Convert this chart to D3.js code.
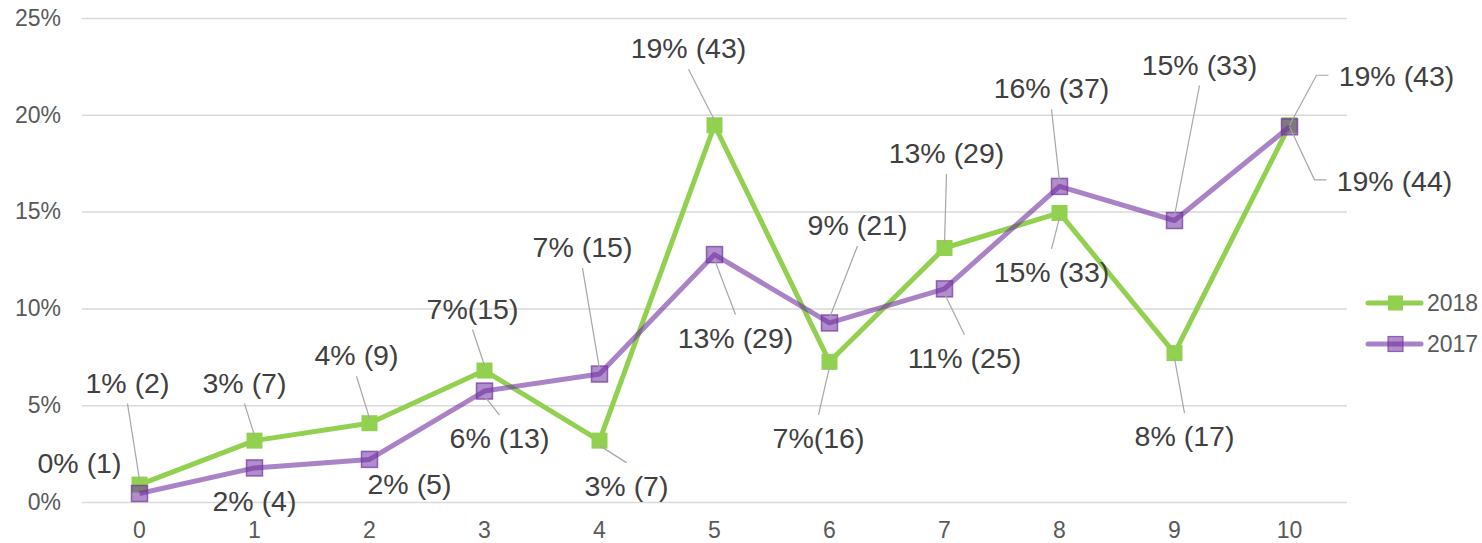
<!DOCTYPE html>
<html>
<head>
<meta charset="utf-8">
<script src="https://cdn.jsdelivr.net/npm/d3@7"></script>
<style>
  html, body { margin: 0; padding: 0; background: #fff; }
  svg { display: block; font-family: "Liberation Sans", Arial, sans-serif; }
</style>
</head>
<body>
<svg id="chart" width="1482" height="543"></svg>
<script>
// Categories on the x axis
const categories = ["0", "1", "2", "3", "4", "5", "6", "7", "8", "9", "10"];

// Share of responses (%) per category
const values2018 = [0.90, 3.17, 4.07, 6.79, 3.17, 19.46, 7.24, 13.12, 14.93, 7.69, 19.46];
const values2017 = [0.44, 1.76, 2.20, 5.73, 6.61, 12.78, 9.25, 11.01, 16.30, 14.54, 19.38];

// Data label text (percentage and count)
const labels2018 = ["1% (2)", "3% (7)", "4% (9)", "7%(15)", "3% (7)", "19% (43)", "7%(16)", "13% (29)", "15% (33)", "8% (17)", "19% (43)"];
const labels2017 = ["0% (1)", "2% (4)", "2% (5)", "6% (13)", "7% (15)", "13% (29)", "9% (21)", "11% (25)", "16% (37)", "15% (33)", "19% (44)"];

// Y axis ticks (%)
const yTicks = [0, 5, 10, 15, 20, 25];

const seriesNames = ["2018", "2017"];

// Label placement relative to each point: [dx, dy] of label centre, leader flag / elbow
const place2018 = [
  {dx: -12, dy: -102, lead: true}, {dx: -10, dy: -58, lead: true}, {dx: -13, dy: -68, lead: true},
  {dx: -12, dy: -62, lead: true}, {dx: 27, dy: 45, lead: true}, {dx: -26, dy: -77, lead: true},
  {dx: -11, dy: 76, lead: true}, {dx: 2, dy: -95, lead: true}, {dx: -8, dy: 59, lead: true},
  {dx: 10, dy: 83, lead: true}, {dx: 107, dy: -49, elbow: true}
];
const place2017 = [
  {dx: -60, dy: -30}, {dx: 0, dy: 33}, {dx: 40, dy: 25},
  {dx: 15, dy: 47, lead: true}, {dx: -17, dy: -127, lead: true}, {dx: 21, dy: 83, lead: true},
  {dx: 28, dy: -98, lead: true}, {dx: 20, dy: 69, lead: true}, {dx: -8, dy: -98, lead: true},
  {dx: 25, dy: -156, lead: true}, {dx: 105, dy: 54, elbow: true}
];

const svg = d3.select("#chart");
const margin = {left: 82, right: 135, top: 18, bottom: 41};
const W = 1482, H = 543;

const x = d3.scaleBand().domain(categories).range([margin.left, W - margin.right]).paddingInner(0).paddingOuter(0);
const y = d3.scaleLinear().domain([0, 25]).range([H - margin.bottom, margin.top]);
const cx = c => x(c) + x.bandwidth() / 2;

const green = "#92D050";
const purpleLine = "rgba(112,48,160,0.6)";
const purpleFill = "rgba(112,48,160,0.55)";
const purpleStroke = "rgba(112,48,160,0.7)";

// Gridlines
const yAxis = d3.axisLeft(y).tickValues(yTicks).tickSize(-(W - margin.right - margin.left)).tickFormat(d => d + "%").tickPadding(21);
const gy = svg.append("g").attr("transform", `translate(${margin.left},0)`).call(yAxis);
gy.select(".domain").remove();
gy.selectAll(".tick line").attr("stroke", "#d9d9d9").attr("stroke-width", 1.5);
gy.selectAll(".tick text").attr("fill", "#595959").attr("font-size", 23).attr("font-family", "Liberation Sans, Arial, sans-serif");

// X axis labels
const xAxis = d3.axisBottom(x).tickSize(0).tickPadding(20);
const gx = svg.append("g").attr("transform", `translate(0,${H - margin.bottom})`).call(xAxis);
gx.select(".domain").remove();
gx.selectAll(".tick text").attr("fill", "#595959").attr("font-size", 23).attr("font-family", "Liberation Sans, Arial, sans-serif");

const line = d3.line().x((d, i) => cx(categories[i])).y(d => y(d));

// 2018 series
svg.append("path").datum(values2018).attr("d", line)
  .attr("fill", "none").attr("stroke", green).attr("stroke-width", 5).attr("stroke-linejoin", "round");
svg.append("g").selectAll("rect").data(values2018).join("rect")
  .attr("x", (d, i) => cx(categories[i]) - 8).attr("y", d => y(d) - 8)
  .attr("width", 16).attr("height", 16).attr("fill", green);

// 2017 series
svg.append("path").datum(values2017).attr("d", line)
  .attr("fill", "none").attr("stroke", purpleLine).attr("stroke-width", 5).attr("stroke-linejoin", "round");
svg.append("g").selectAll("rect").data(values2017).join("rect")
  .attr("x", (d, i) => cx(categories[i]) - 8).attr("y", d => y(d) - 8)
  .attr("width", 16).attr("height", 16).attr("fill", purpleFill)
  .attr("stroke", purpleStroke).attr("stroke-width", 1.5);

// Data labels with leader lines
function drawLabels(values, labels, place) {
  const g = svg.append("g");
  values.forEach((v, i) => {
    const px = cx(categories[i]), py = y(v);
    const p = place[i];
    const lx = px + p.dx, ly = py + p.dy;
    if (p.elbow) {
      const ex = lx - 68, ey = ly - 1;
      g.append("polyline")
        .attr("points", `${px},${py} ${ex - 12},${ey} ${ex},${ey}`)
        .attr("fill", "none").attr("stroke", "#a6a6a6").attr("stroke-width", 1.2);
    } else if (p.lead) {
      const up = p.dy < 0;
      const sx = lx, sy = up ? ly + 21 : ly - 23;
      const tx = px, ty = up ? py - 5 : py + 5;
      g.append("line").attr("x1", sx).attr("y1", sy).attr("x2", tx).attr("y2", ty)
        .attr("stroke", "#a6a6a6").attr("stroke-width", 1.2);
    }
    g.append("text").attr("x", lx).attr("y", ly).attr("text-anchor", "middle")
      .attr("dominant-baseline", "central").attr("fill", "#404040").attr("font-size", 28.5)
      .text(labels[i]);
  });
}
drawLabels(values2018, labels2018, place2018);
drawLabels(values2017, labels2017, place2017);

// Legend
const legend = svg.append("g");
const legendItems = [
  {name: seriesNames[0], stroke: green, fill: green, mstroke: "none", y: 303},
  {name: seriesNames[1], stroke: purpleLine, fill: purpleFill, mstroke: purpleStroke, y: 344}
];
legendItems.forEach(it => {
  legend.append("line").attr("x1", 1368).attr("x2", 1421).attr("y1", it.y).attr("y2", it.y)
    .attr("stroke", it.stroke).attr("stroke-width", 5).attr("stroke-linecap", "round");
  legend.append("rect").attr("x", 1388).attr("y", it.y - 7.5).attr("width", 15).attr("height", 15)
    .attr("fill", it.fill).attr("stroke", it.mstroke).attr("stroke-width", 1.2);
  legend.append("text").attr("x", 1427).attr("y", it.y).attr("dominant-baseline", "central")
    .attr("fill", "#595959").attr("font-size", 23).text(it.name);
});
</script>
</body>
</html>
